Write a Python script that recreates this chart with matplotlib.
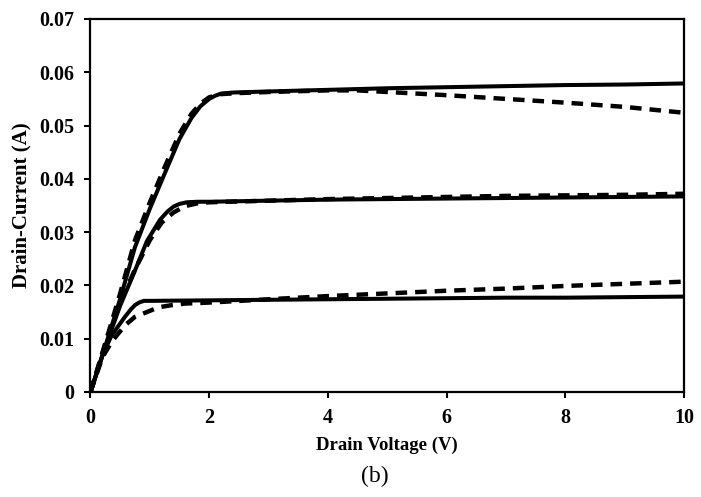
import matplotlib
matplotlib.use("Agg")
import matplotlib.pyplot as plt

# Drain voltage sample points (V) and drain currents (A)
vd_top_solid = [0, 0.25, 0.5, 0.75, 1.0, 1.25, 1.5, 1.7, 1.85, 2.0, 2.1, 2.2, 2.4, 2.7, 3, 4, 5, 6, 7, 8, 9, 10]
id_top_solid = [0, 0.0086, 0.0175, 0.0272, 0.0344, 0.0410, 0.0475, 0.0514, 0.0536, 0.0550, 0.0556, 0.0560, 0.0562, 0.0563, 0.0564, 0.0567, 0.0570, 0.0572, 0.0574, 0.0576, 0.0577, 0.0579]

vd_top_dash = [0, 0.25, 0.5, 0.75, 1.0, 1.25, 1.5, 1.7, 1.85, 2.0, 2.2, 2.5, 3, 4, 4.5, 5, 6, 7, 8, 9, 10]
id_top_dash = [0, 0.0092, 0.0185, 0.0285, 0.0356, 0.0422, 0.0485, 0.0522, 0.0541, 0.0553, 0.0559, 0.0561, 0.0563, 0.0566, 0.0566, 0.0563, 0.0557, 0.0550, 0.0543, 0.0535, 0.0524]

vd_mid_solid = [0, 0.25, 0.5, 0.61, 0.75, 0.95, 1.17, 1.3, 1.4, 1.5, 1.62, 1.8, 2.0, 3, 4, 5, 6, 7, 8, 9, 10]
id_mid_solid = [0, 0.0085, 0.0162, 0.0191, 0.0228, 0.0283, 0.0323, 0.0339, 0.0348, 0.0353, 0.0356, 0.0357, 0.0357, 0.0359, 0.0361, 0.0362, 0.0363, 0.0364, 0.0365, 0.0366, 0.0367]

vd_mid_dash = [0, 0.25, 0.5, 0.75, 1.0, 1.2, 1.4, 1.6, 1.8, 2.0, 3, 4, 5, 6, 7, 8, 9, 10]
id_mid_dash = [0, 0.0090, 0.0168, 0.0230, 0.0285, 0.0318, 0.0337, 0.0349, 0.0354, 0.0356, 0.0359, 0.0362, 0.0364, 0.0366, 0.0368, 0.0369, 0.0370, 0.0372]

vd_bot_solid = [0, 0.2, 0.35, 0.47, 0.58, 0.68, 0.75, 0.82, 0.9, 1.0, 2, 3, 4, 5, 6, 7, 8, 9, 10]
id_bot_solid = [0, 0.0068, 0.0105, 0.0124, 0.0141, 0.0155, 0.0163, 0.0168, 0.0171, 0.0171, 0.0172, 0.0173, 0.0174, 0.0175, 0.0176, 0.0177, 0.0177, 0.0178, 0.0179]

vd_bot_dash = [0, 0.2, 0.35, 0.47, 0.6, 0.75, 0.95, 1.15, 1.37, 1.6, 1.85, 2.2, 3, 4, 5, 6, 7, 8, 9, 10]
id_bot_dash = [0, 0.0065, 0.0093, 0.0110, 0.0127, 0.0141, 0.0150, 0.0159, 0.0163, 0.0166, 0.0167, 0.0169, 0.0174, 0.0180, 0.0185, 0.0190, 0.0194, 0.0199, 0.0203, 0.0207]

x_ticks = [0, 2, 4, 6, 8, 10]
y_ticks = [0, 0.01, 0.02, 0.03, 0.04, 0.05, 0.06, 0.07]
y_tick_labels = ["0", "0.01", "0.02", "0.03", "0.04", "0.05", "0.06", "0.07"]

plt.rcParams['font.family'] = ['Liberation Serif', 'DejaVu Serif']

fig = plt.figure(figsize=(7.01, 4.97), dpi=100)
ax = fig.add_axes([0.1291, 0.2113, 0.9758 - 0.1291, 0.9618 - 0.2113])

solid_kw = dict(color='black', lw=2.9, solid_capstyle='round', solid_joinstyle='round')
dash_kw = dict(color='black', lw=3.2, linestyle=(0, (2.6, 1.8)), dash_capstyle='butt')

ax.plot(vd_top_dash, id_top_dash, **dash_kw)
ax.plot(vd_mid_dash, id_mid_dash, **dash_kw)
ax.plot(vd_bot_dash, id_bot_dash, **dash_kw)
ax.plot(vd_top_solid, id_top_solid, **solid_kw)
ax.plot(vd_mid_solid, id_mid_solid, **solid_kw)
ax.plot(vd_bot_solid, id_bot_solid, **solid_kw)

ax.set_xlim(0, 10)
ax.set_ylim(0, 0.07)
ax.set_xticks(x_ticks)
ax.set_xticklabels([str(t) for t in x_ticks], fontsize=14.5, fontweight='bold')
ax.set_yticks(y_ticks)
ax.set_yticklabels(y_tick_labels, fontsize=14.5, fontweight='bold')
ax.tick_params(direction='out', length=4.5, width=1.5, pad=7)

for sp in ax.spines.values():
    sp.set_linewidth(1.6)

ax.set_xlabel("Drain Voltage (V)", fontsize=13.5, fontweight='bold', labelpad=6)
ax.set_ylabel("Drain-Current (A)", fontsize=15, fontweight='bold', labelpad=6)

fig.text(375 / 701, 1 - 476 / 497, "(b)", fontsize=17, ha='center', va='center')

fig.savefig("out.png", dpi=100)
